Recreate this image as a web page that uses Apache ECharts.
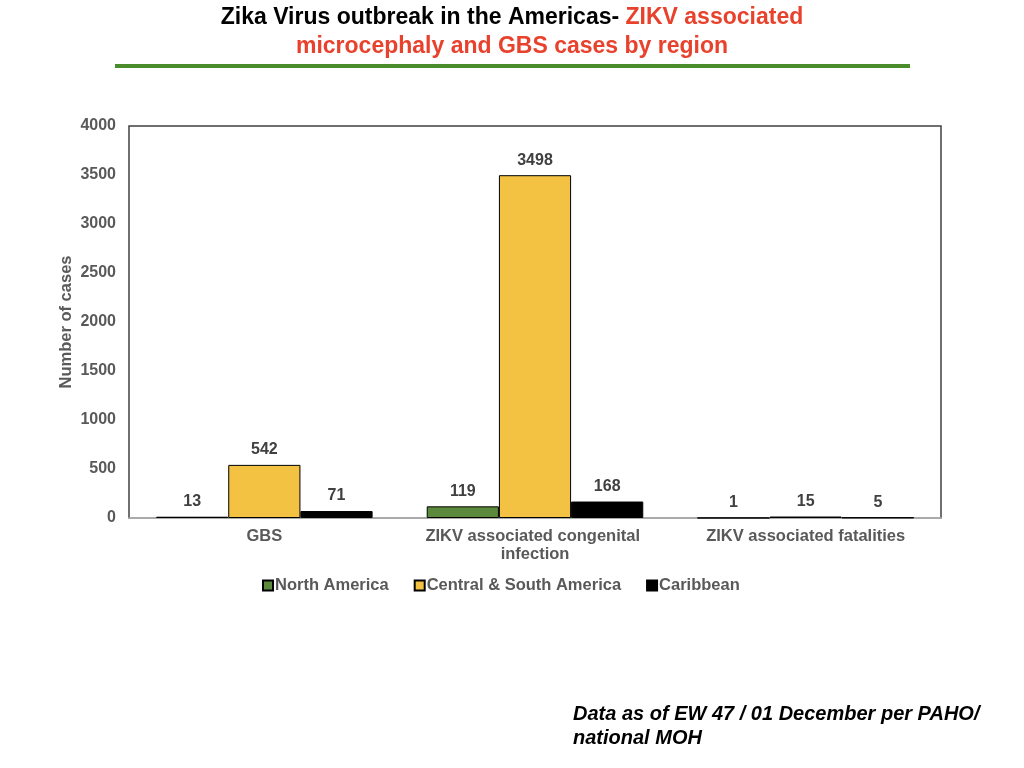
<!DOCTYPE html>
<html>
<head>
<meta charset="utf-8">
<script src="https://cdn.jsdelivr.net/npm/echarts@6/dist/echarts.min.js"></script>
<style>
  html, body { margin: 0; padding: 0; background: #fff; }
  #main { width: 1024px; height: 768px; }
</style>
</head>
<body>
<div id="main"></div>
<script>
var categories = ['GBS', 'ZIKV associated congenital infection', 'ZIKV associated fatalities'];
var northAmerica = [13, 119, 1];
var centralSouthAmerica = [542, 3498, 15];
var caribbean = [71, 168, 5];
var yTicks = { min: 0, max: 4000, interval: 500 };

var chart = echarts.init(document.getElementById('main'));
var font = '"Liberation Sans", Arial, sans-serif';

function barSeries(name, data, color) {
    return {
        name: name,
        type: 'bar',
        data: data,
        barGap: '0%',
        barCategoryGap: '20%',
        itemStyle: { color: color, borderColor: '#000', borderWidth: 1 },
        label: {
            show: true,
            position: 'top',
            distance: 7,
            fontFamily: font,
            fontWeight: 'bold',
            fontSize: 16,
            color: '#404040'
        }
    };
}

chart.setOption({
    animation: false,
    textStyle: { fontFamily: font },
    graphic: [{
        type: 'text',
        x: 512,
        y: 18,
        style: {
            text: '{b|Zika Virus outbreak in the Americas- }{r|ZIKV associated}',
            align: 'center',
            verticalAlign: 'middle',
            rich: {
                b: { fontFamily: font, fontWeight: 'bold', fontSize: 23, fill: '#000' },
                r: { fontFamily: font, fontWeight: 'bold', fontSize: 23, fill: '#e8412c' }
            }
        }
    }, {
        type: 'text',
        x: 512,
        y: 47,
        style: {
            text: 'microcephaly and GBS cases by region',
            align: 'center',
            verticalAlign: 'middle',
            font: 'bold 23px "Liberation Sans", Arial, sans-serif',
            fill: '#e8412c'
        }
    }, {
        type: 'rect',
        shape: { x: 115, y: 64, width: 795, height: 4 },
        style: { fill: '#4a8b2c' }
    }, {
        type: 'text',
        x: 573,
        y: 702,
        style: {
            text: 'Data as of EW 47 / 01 December per PAHO/\nnational MOH',
            font: 'italic bold 20px "Liberation Sans", Arial, sans-serif',
            lineHeight: 24,
            fill: '#000'
        }
    }],
    grid: {
        left: 129,
        right: 83,
        top: 126,
        bottom: 250,
        show: true,
        borderColor: '#404040',
        borderWidth: 1.5,
        backgroundColor: 'transparent'
    },
    legend: {
        top: 572,
        left: 257,
        itemWidth: 10,
        itemHeight: 10,
        itemGap: 25,
        icon: 'rect',
        textStyle: { fontFamily: font, fontWeight: 'bold', fontSize: 16.5, color: '#595959', padding: [0, 0, 0, -3] },
        data: ['North America', 'Central & South America', 'Caribbean']
    },
    xAxis: {
        type: 'category',
        data: categories,
        axisLine: { show: true, lineStyle: { color: '#bfbfbf', width: 1.5 } },
        axisTick: { show: false },
        axisLabel: {
            interval: 0,
            margin: 9,
            width: 250,
            overflow: 'break',
            fontFamily: font,
            fontWeight: 'bold',
            fontSize: 16.5,
            lineHeight: 18,
            color: '#595959'
        }
    },
    yAxis: {
        type: 'value',
        min: yTicks.min,
        max: yTicks.max,
        interval: yTicks.interval,
        name: 'Number of cases',
        nameLocation: 'middle',
        nameGap: 54,
        nameMoveOverlap: false,
        nameTextStyle: { fontFamily: font, fontWeight: 'bold', fontSize: 16.5, color: '#595959' },
        axisLine: { show: false },
        axisTick: { show: false },
        splitLine: { show: false },
        axisLabel: {
            margin: 13,
            formatter: function (v) { return String(v); },
            fontFamily: font,
            fontWeight: 'bold',
            fontSize: 16,
            color: '#595959'
        }
    },
    series: [
        barSeries('North America', northAmerica, '#5b8a3c'),
        barSeries('Central & South America', centralSouthAmerica, '#f3c242'),
        barSeries('Caribbean', caribbean, '#000000')
    ]
});
</script>
</body>
</html>
